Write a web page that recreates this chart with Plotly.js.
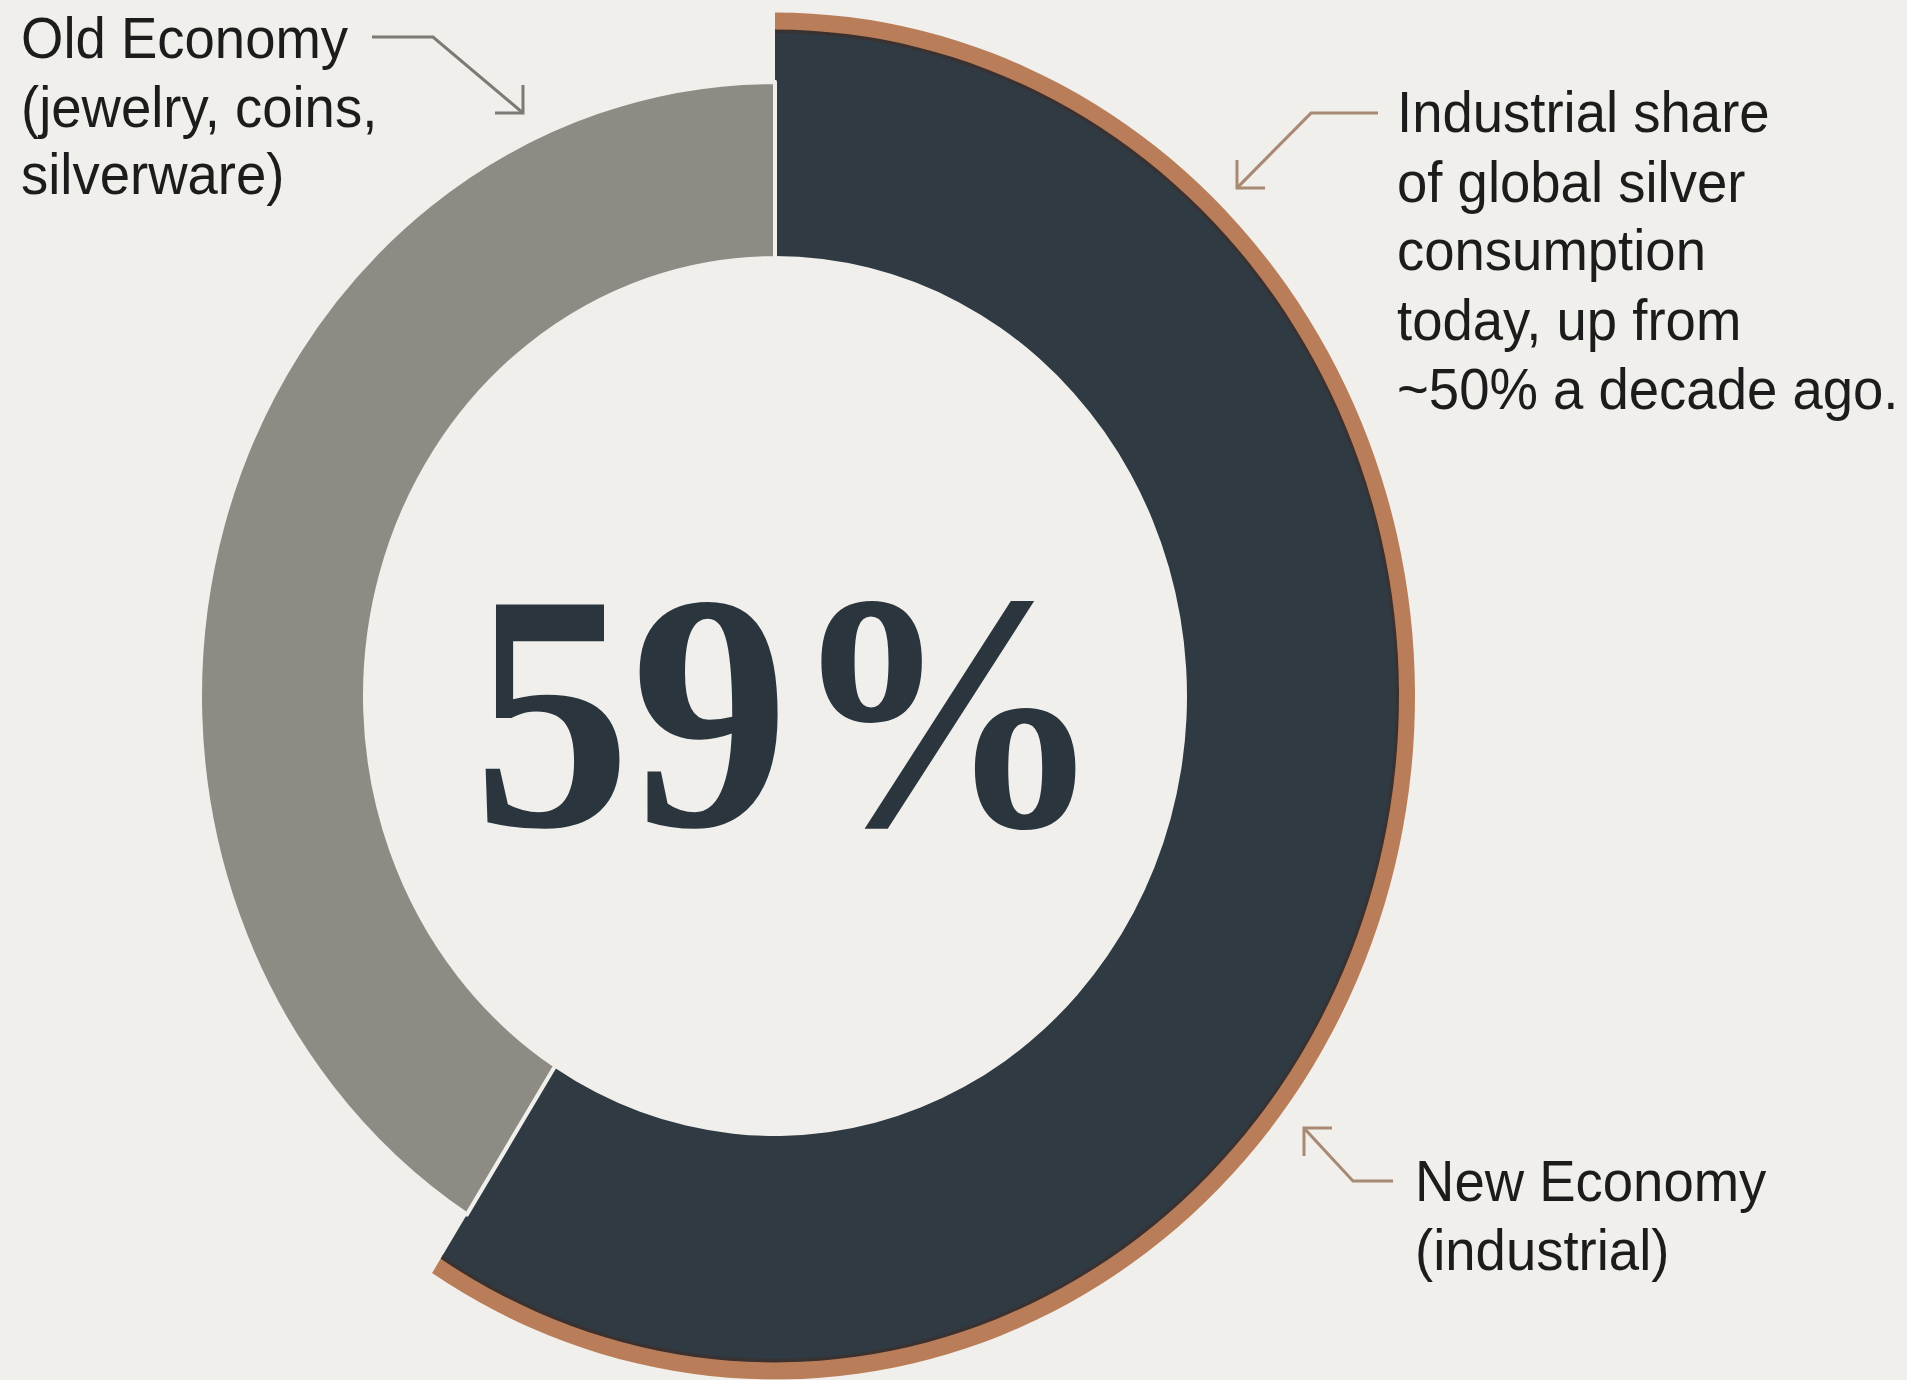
<!DOCTYPE html>
<html>
<head>
<meta charset="utf-8">
<script src="https://cdn.plot.ly/plotly-3.0.1.min.js"></script>
<style>
html, body { margin: 0; padding: 0; background: #f0efeb; overflow: hidden; }
#wrap { width: 1907px; height: 1380px; overflow: hidden; background: #f0efeb; }
#chart { width: 1907px; height: 1292px; transform: scaleY(1.068); transform-origin: 0 0; }
</style>
</head>
<body>
<div id="wrap"><div id="chart"></div></div>
<script>
// ---- data ----
const categories = ['New Economy (industrial)', 'Old Economy (jewelry, coins, silverware)'];
const shares = [59, 41];
const centerLabel = shares[0] + '%';
const oldLabel = ['Old Economy', '(jewelry, coins,', 'silverware)'];
const noteLabel = ['Industrial share', 'of global silver', 'consumption', 'today, up from', '~50% a decade ago.'];
const newLabel = ['New Economy', '(industrial)'];

// ---- layout / style ----
const W = 1907, H = 1292, K = 1.068;
const BG = '#f0efeb', DARK = '#2f3a42', GREY = '#8e8b85', COPPER = '#b97e59', RIM = '#3a3130', NONE = 'rgba(0,0,0,0)';
const CX = 775, CY = 696 / K;

function dom(r) {
  return { x: [(CX - r) / W, (CX + r) / W], y: [1 - (CY + r) / H, 1 - (CY - r) / H] };
}
function ring(name, rOut, rIn, colors, lineColors, lineWidths) {
  return {
    type: 'pie', name: name, labels: categories, values: shares,
    sort: false, direction: 'clockwise', rotation: 0,
    hole: rIn / rOut, domain: dom(rOut),
    textinfo: 'none', hoverinfo: 'skip', showlegend: false,
    marker: { colors: colors, line: { color: lineColors || [NONE, NONE], width: lineWidths || [0, 0] } }
  };
}

const traces = [
  ring('copper', 640, 620, [COPPER, NONE]),
  ring('rim', 624, 619, [RIM, NONE]),
  ring('dark', 621, 412, [DARK, NONE]),
  ring('grey', 575, 410, [NONE, GREY], [NONE, BG], [0, 4])
];

const LABEL_FONT = { family: 'Liberation Sans, Arial, sans-serif', size: 54.5, color: '#1c1c1c' };
const annotations = [];
function addLines(lines, xLeft, baselines) {
  lines.forEach(function (t, i) {
    annotations.push({
      xref: 'paper', yref: 'paper', x: xLeft / W, y: 1 - (baselines[i] / K - 0.3465 * LABEL_FONT.size) / H,
      xanchor: 'left', yanchor: 'middle', text: t, showarrow: false, borderpad: 0, font: LABEL_FONT
    });
  });
}
addLines(oldLabel, 20, [58, 127, 195]);
addLines(noteLabel, 1396, [133, 202, 271, 340, 409]);
addLines(newLabel, 1414, [1202, 1270]);

annotations.push({
  xref: 'paper', yref: 'paper', x: 789 / W, y: 1 - 666 / H, xanchor: 'center', yanchor: 'middle',
  text: centerLabel, showarrow: false, borderpad: 0,
  font: { family: 'Liberation Serif, Times New Roman, serif', size: 316, color: '#2b353d', weight: 700 }
});

function P(x, y) { return (x / W).toFixed(5) + ',' + (1 - (y / K) / H).toFixed(5); }
function callout(pts, arms, color) {
  return [
    { type: 'path', xref: 'paper', yref: 'paper', path: 'M' + pts.map(function (p) { return P(p[0], p[1]); }).join(' L'),
      line: { color: color, width: 3 } },
    { type: 'path', xref: 'paper', yref: 'paper', path: 'M' + arms.map(function (p) { return P(p[0], p[1]); }).join(' L'),
      line: { color: color, width: 3 } }
  ];
}
const shapes = [].concat(
  callout([[372, 37], [433, 37], [523, 113]], [[523, 85], [523, 113], [495, 113]], '#7d7a76'),
  callout([[1378, 113], [1311, 113], [1237, 188]], [[1237, 160], [1237, 188], [1265, 188]], '#a88a74'),
  callout([[1393, 1181], [1353, 1181], [1304, 1128]], [[1332, 1128], [1304, 1128], [1304, 1156]], '#a88a74')
);

const layout = {
  width: W, height: H,
  margin: { l: 0, r: 0, t: 0, b: 0, pad: 0 },
  paper_bgcolor: BG, plot_bgcolor: BG,
  showlegend: false,
  annotations: annotations,
  shapes: shapes
};

Plotly.newPlot('chart', traces, layout, { staticPlot: true, displayModeBar: false });
</script>
</body>
</html>
